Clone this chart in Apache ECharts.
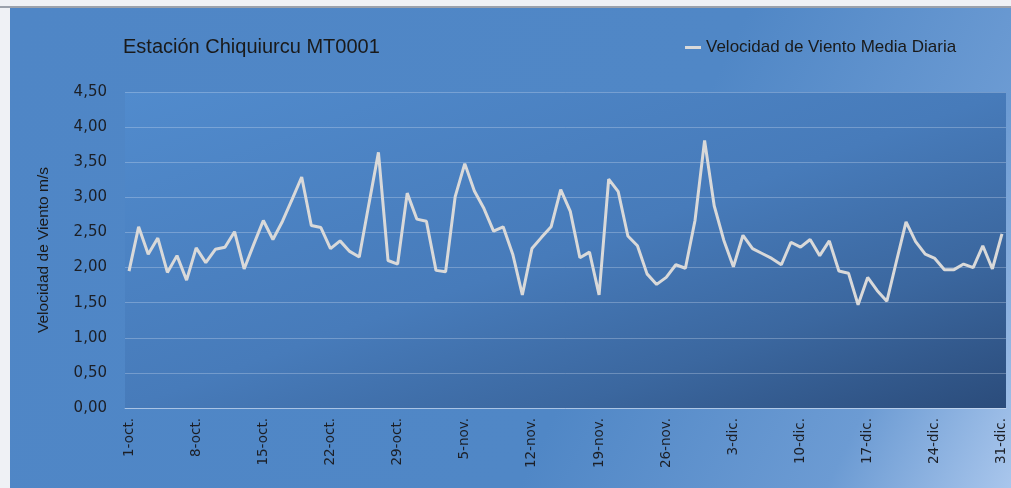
<!DOCTYPE html>
<html>
<head>
<meta charset="utf-8">
<script src="https://cdn.jsdelivr.net/npm/echarts@6/dist/echarts.min.js"></script>
<style>
  html, body { margin: 0; padding: 0; background: #eff1f5; }
  #chart { width: 1011px; height: 488px; }
</style>
</head>
<body>
<div id="chart"></div>
<script>
// daily mean wind speed, 1-oct .. 31-dic (92 days)
const speed = [
  1.95, 2.58, 2.19, 2.42, 1.93, 2.17, 1.82, 2.28, 2.07, 2.26, 2.29, 2.51, 1.98, 2.33,
  2.67, 2.40, 2.66, 2.97, 3.29, 2.60, 2.57, 2.27, 2.38, 2.23, 2.15, 2.90, 3.64, 2.10,
  2.05, 3.06, 2.69, 2.66, 1.96, 1.94, 3.01, 3.48, 3.09, 2.84, 2.52, 2.58, 2.19, 1.61,
  2.27, 2.43, 2.58, 3.11, 2.80, 2.14, 2.22, 1.61, 3.26, 3.08, 2.45, 2.31, 1.91, 1.76,
  1.86, 2.04, 1.99, 2.67, 3.81, 2.88, 2.39, 2.01, 2.46, 2.27, 2.20, 2.13, 2.04, 2.36,
  2.29, 2.40, 2.17, 2.38, 1.95, 1.92, 1.47, 1.86, 1.67, 1.52, 2.09, 2.65, 2.37, 2.19,
  2.13, 1.97, 1.97, 2.05, 2.00, 2.31, 1.98, 2.48
];
const tickDays = [0, 7, 14, 21, 28, 35, 42, 49, 56, 63, 70, 77, 84, 91];
const tickLabels = ['1-oct.', '8-oct.', '15-oct.', '22-oct.', '29-oct.', '5-nov.', '12-nov.',
  '19-nov.', '26-nov.', '3-dic.', '10-dic.', '17-dic.', '24-dic.', '31-dic.'];

const myChart = echarts.init(document.getElementById('chart'));

const option = {
  animation: false,
  graphic: [
    {
      type: 'rect', z: -10, silent: true,
      shape: { x: 0, y: 6, width: 1011, height: 2 },
      style: { fill: '#9ba1ab' }
    },
    {
      type: 'rect', z: -10, silent: true,
      shape: { x: 10, y: 8, width: 1001, height: 480 },
      style: {
        fill: {
          type: 'linear', x: 0, y: 0, x2: 1, y2: 1,
          colorStops: [
            { offset: 0, color: '#4f86c6' },
            { offset: 0.6, color: '#5087c6' },
            { offset: 0.85, color: '#6c9bd3' },
            { offset: 1, color: '#a9c6ec' }
          ]
        }
      }
    }
  ],
  title: {
    text: 'Estación Chiquiurcu MT0001',
    left: 123,
    top: 37,
    padding: 0,
    textStyle: {
      fontFamily: 'Liberation Sans',
      fontSize: 20,
      fontWeight: 'normal',
      color: '#1a1a1a'
    }
  },
  legend: {
    left: 685,
    top: 39,
    padding: 0,
    icon: 'rect',
    itemWidth: 16,
    itemHeight: 3,
    textStyle: {
      fontFamily: 'Liberation Sans',
      fontSize: 17,
      color: '#1a1a1a'
    }
  },
  grid: {
    left: 125,
    right: 5,
    top: 92,
    bottom: 80,
    show: true,
    borderWidth: 0,
    // darkens toward the bottom-right corner of the plot
    backgroundColor: {
      type: 'linear', global: true,
      x: 125, y: 92, x2: 326, y2: 652,
      colorStops: [
        { offset: 0, color: '#518bcd' },
        { offset: 0.5, color: '#477bba' },
        { offset: 0.75, color: '#3b679f' },
        { offset: 1, color: '#2b4c7b' }
      ]
    }
  },
  xAxis: {
    type: 'value',
    min: -0.42,
    max: 91.42,
    axisLine: {
      show: true,
      lineStyle: { color: 'rgba(210,222,240,0.55)', width: 1 }
    },
    axisTick: { show: false },
    splitLine: { show: false },
    axisLabel: {
      customValues: tickDays,
      rotate: 90,
      margin: 10,
      fontFamily: 'DejaVu Sans',
      fontSize: 13.5,
      color: '#1c1f26',
      formatter: (v) => tickLabels[tickDays.indexOf(Math.round(v))]
    }
  },
  yAxis: {
    type: 'value',
    min: 0,
    max: 4.5,
    interval: 0.5,
    name: 'Velocidad de Viento m/s',
    nameLocation: 'middle',
    nameGap: 73,
    nameTextStyle: {
      fontFamily: 'Liberation Sans',
      fontSize: 15.5,
      color: '#1a1a1a'
    },
    axisLine: { show: false },
    axisTick: { show: false },
    splitLine: {
      lineStyle: { color: 'rgba(220,230,245,0.3)', width: 1 }
    },
    axisLabel: {
      margin: 18,
      fontFamily: 'DejaVu Sans',
      fontSize: 15,
      color: '#1c1f26',
      formatter: (v) => v.toFixed(2).replace('.', ',')
    }
  },
  series: [
    {
      name: 'Velocidad de Viento Media Diaria',
      type: 'line',
      symbol: 'none',
      smooth: false,
      lineStyle: { color: '#d9d9d9', width: 3 },
      itemStyle: { color: '#d9d9d9' },
      data: speed.map((v, i) => [i, v])
    }
  ]
};

option && myChart.setOption(option);
</script>
</body>
</html>
